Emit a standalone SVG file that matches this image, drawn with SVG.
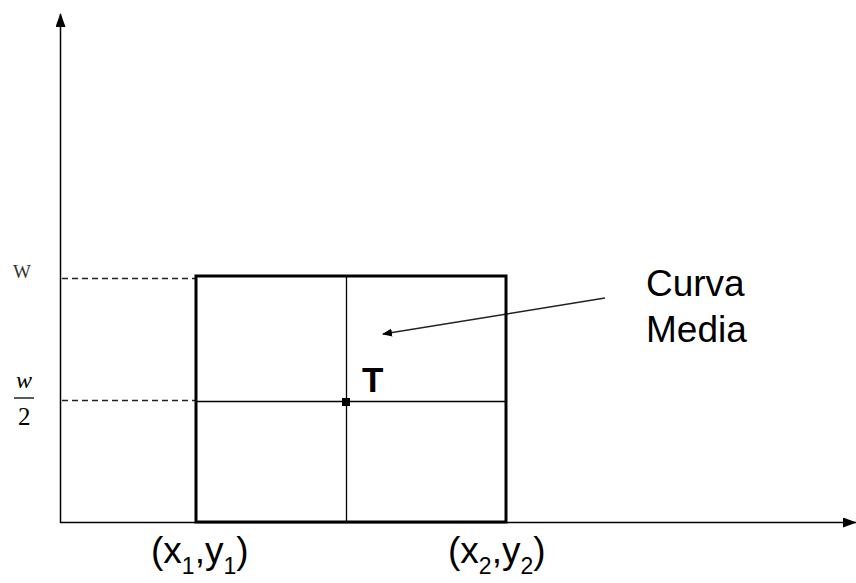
<svg xmlns="http://www.w3.org/2000/svg" width="856" height="583" viewBox="0 0 856 583">
<style>
.ax{stroke:#000;stroke-width:1.5;fill:none}
.dash{stroke:#222;stroke-width:1.3;stroke-dasharray:6,4;fill:none}
.thin{stroke:#000;stroke-width:1.3;fill:none}
.s{font-family:"Liberation Sans",Arial,sans-serif;fill:#000}
.sub{font-size:23px}
</style>
<defs>
<marker id="ah" markerWidth="10" markerHeight="8" refX="9" refY="4" orient="auto" markerUnits="userSpaceOnUse"><path d="M0,0 L10,4 L0,8 Z" fill="#000"/></marker>
<marker id="ah2" markerWidth="14" markerHeight="10" refX="13" refY="5" orient="auto" markerUnits="userSpaceOnUse"><path d="M0,0 L14,5 L0,10 Z" fill="#000"/></marker>
</defs>
<rect width="856" height="583" fill="#fff"/>
<g id="connectors">
<line class="ax" x1="60.5" y1="523" x2="60.5" y2="14" marker-end="url(#ah2)"/>
<line class="ax" x1="60" y1="522.5" x2="856" y2="522.5" marker-end="url(#ah2)"/>
<line class="dash" x1="62" y1="278.5" x2="195" y2="278.5"/>
<line class="dash" x1="62" y1="400.5" x2="195" y2="400.5"/>
<line stroke="#222" stroke-width="1.5" x1="605" y1="298" x2="383" y2="334" marker-end="url(#ah)"/>
</g>
<g id="rect">
<rect x="196" y="276" width="310" height="246" fill="none" stroke="#000" stroke-width="3"/>
<line class="thin" x1="346.5" y1="276" x2="346.5" y2="522"/>
<line class="thin" x1="196" y1="401.5" x2="506" y2="401.5"/>
<rect x="342" y="398" width="8" height="8" fill="#000"/>
</g>
<g id="T"><text class="s" x="362" y="392" font-size="35" font-weight="bold">T</text></g>
<g id="curva"><text class="s" x="646" y="296" font-size="37">Curva</text><text class="s" x="646" y="342" font-size="37">Media</text></g>
<g id="W"><text x="13" y="278" font-family="Liberation Serif,serif" font-size="19" fill="#333">W</text></g>
<g id="w2">
<text x="16" y="388" font-family="Liberation Serif,serif" font-size="24" font-style="italic" fill="#000">w</text>
<line x1="14" y1="398" x2="34" y2="398" stroke="#000" stroke-width="1.3"/>
<text x="18" y="425" font-family="Liberation Serif,serif" font-size="25" fill="#000">2</text>
</g>
<g id="p1"><text class="s" x="151" y="563" font-size="37">(x<tspan class="sub" dy="11">1</tspan><tspan dy="-11">,y</tspan><tspan class="sub" dy="11">1</tspan><tspan dy="-11">)</tspan></text></g>
<g id="p2"><text class="s" x="448" y="563" font-size="37">(x<tspan class="sub" dy="11">2</tspan><tspan dy="-11">,y</tspan><tspan class="sub" dy="11">2</tspan><tspan dy="-11">)</tspan></text></g>
</svg>
